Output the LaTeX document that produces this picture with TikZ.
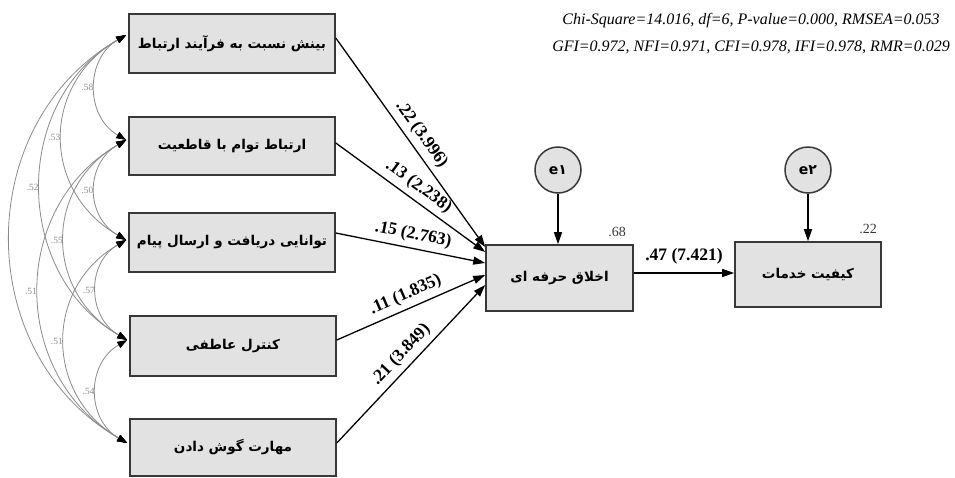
\documentclass[tikz,border=0pt]{standalone}
\usepackage{fontspec}
\setmainfont{Liberation Serif}
\newfontfamily\fa[Script=Arabic]{DejaVu Sans}
\TeXXeTstate=1
\usetikzlibrary{arrows.meta,calc}
\definecolor{boxfill}{HTML}{E2E2E2}
\definecolor{boxline}{HTML}{383838}
\definecolor{covcol}{HTML}{8C8C8C}
\newcommand\fatext[1]{{\fa\bfseries\beginR #1\endR}}
\begin{document}
\begin{tikzpicture}[x=1pt,y=1pt,
  obs/.style={draw=boxline,line width=1.6pt,fill=boxfill,inner sep=0pt,
    minimum width=206pt,minimum height=58pt,font=\fontsize{13.5}{15}\selectfont},
  endo/.style={obs,minimum width=147pt,minimum height=66pt},
  errc/.style={circle,draw=boxline,line width=1.5pt,fill=boxfill,inner sep=0pt,
    minimum size=46pt,font=\fontsize{14}{14}\selectfont},
  path/.style={-{Triangle[length=12pt,width=8pt]},line width=1.3pt,black},
  plab/.style={font=\fontsize{17.5}{17.5}\selectfont\bfseries,sloped,above=4pt,inner sep=1pt,pos=0.5},
  cov/.style={covcol,line width=0.8pt,
    {Triangle[length=10pt,width=7pt,color=black]}-{Triangle[length=10pt,width=7pt,color=black]}},
  cv/.style={out=210,in=150,looseness=1.18},
  cl/.style={font=\fontsize{9.5}{10}\selectfont,text=covcol,left=1pt,inner sep=0.5pt,pos=0.5},
  rsq/.style={font=\fontsize{14}{14}\selectfont,text=boxline,inner sep=0pt}
]
\useasboundingbox (0,0) rectangle (955,-477);
\fill[white] (0,0) rectangle (955,-477);

% observed exogenous boxes
\node[obs,minimum height=59pt] (b1) at (232,-43.5) {\fatext{بینش نسبت به فرآیند ارتباط}};
\node[obs] (b2) at (232,-146) {\fatext{ارتباط توام با قاطعیت}};
\node[obs,minimum height=59pt] (b3) at (232,-242.5) {\fatext{توانایی دریافت و ارسال پیام}};
\node[obs,minimum height=60pt] (b4) at (233,-346) {\fatext{کنترل عاطفی}};
\node[obs,minimum height=57pt] (b5) at (233,-447.5) {\fatext{مهارت گوش دادن}};

% endogenous
\node[endo] (m) at (559.5,-278) {\fatext{اخلاق حرفه ای}};
\node[endo,minimum width=146pt,minimum height=65pt] (r) at (808,-274.5) {\fatext{کیفیت خدمات}};

% errors
\node[errc] (e1) at (558,-170) {\fa\bfseries e۱};
\node[errc] (e2) at (808,-170) {\fa\bfseries e۲};

% fit indices
\node[font=\fontsize{16}{27}\selectfont\itshape,align=center] (fit) at (751,-33.5)
  {Chi-Square=14.016, df=6, P-value=0.000, RMSEA=0.053\\
   GFI=0.972, NFI=0.971, CFI=0.978, IFI=0.978, RMR=0.029};

% R squared
\node[rsq] (r2a) at (617,-232) {.68};
\node[rsq] (r2b) at (868,-229) {.22};

% attachment points
\coordinate (b1l) at ($(b1.west)+(-2,8.5)$);
\coordinate (b2l) at ($(b2.west)+(-2,6)$);
\coordinate (b3l) at ($(b3.west)+(-2,2.5)$);
\coordinate (b4l) at ($(b4.west)+(-2,6)$);
\coordinate (b5l) at ($(b5.west)+(-2,4.5)$);
\coordinate (b1r) at ($(b1.east)+(0,5.5)$);
\coordinate (b2r) at ($(b2.east)+(0,3)$);
\coordinate (b3r) at ($(b3.east)+(0,9.5)$);
\coordinate (b4r) at ($(b4.east)+(0,6)$);
\coordinate (b5r) at ($(b5.east)+(0,4.5)$);
\coordinate (m1) at ($(m.west)+(0,31)$);
\coordinate (m2) at ($(m.west)+(0,26)$);
\coordinate (m3) at ($(m.west)+(0,15)$);
\coordinate (m4) at ($(m.west)+(0,3)$);
\coordinate (m5) at ($(m.west)+(0,-7)$);
\coordinate (mo) at ($(m.east)+(0,5)$);

% covariances
\draw[cov] (b1l) to[cv,looseness=1.12] (b5l);
\draw[cov] (b1l) to[cv,looseness=1.11] node[cl]{.52} (b4l);
\draw[cov] (b2l) to[cv,looseness=1.14] node[cl]{.51} (b5l);
\draw[cov] (b1l) to[cv,looseness=1.23] node[cl]{.53} (b3l);
\draw[cov] (b2l) to[cv,looseness=1.22] node[cl]{.55} (b4l);
\draw[cov] (b3l) to[cv,looseness=1.20] node[cl]{.51} (b5l);
\draw[cov] (b1l) to[cv,looseness=1.16] node[cl]{.58} (b2l);
\draw[cov] (b2l) to[cv,looseness=1.22] node[cl]{.50} (b3l);
\draw[cov] (b3l) to[cv,looseness=1.18] node[cl]{.57} (b4l);
\draw[cov] (b4l) to[cv,looseness=1.18] node[cl]{.54} (b5l);

% structural paths
\draw[path] (b1r) -- node[plab]{.22 (3.996)} (m1);
\draw[path] (b2r) -- node[plab]{.13 (2.238)} (m2);
\draw[path] (b3r) -- node[plab]{.15 (2.763)} (m3);
\draw[path] (b4r) -- node[plab]{.11 (1.835)} (m4);
\draw[path] (b5r) -- node[plab]{.21 (3.849)} (m5);
\draw[path] (mo) -- node[font=\fontsize{17.5}{17.5}\selectfont\bfseries,above=7pt,inner sep=1pt]{.47 (7.421)} (mo -| r.west);
\draw[path] (e1.south) -- (e1.south |- m.north);
\draw[path] (e2.south) -- (e2.south |- r.north);
\end{tikzpicture}
\end{document}
